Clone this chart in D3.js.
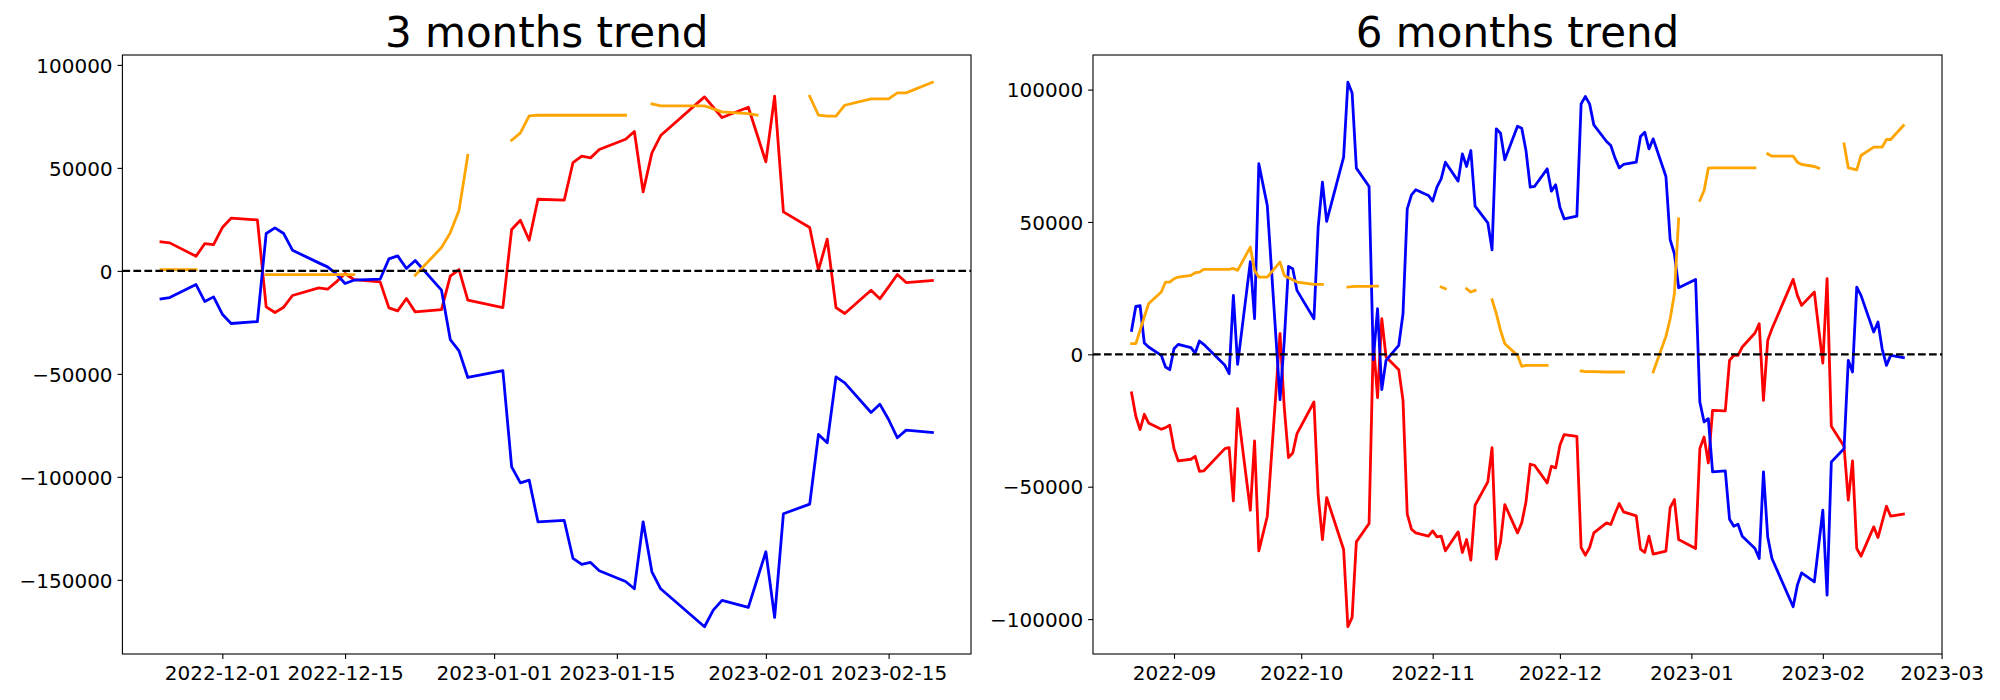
<!DOCTYPE html>
<html><head><meta charset="utf-8">
<script src="https://cdn.jsdelivr.net/npm/d3@7"></script>
<style>
body{margin:0;background:#fff}
svg{display:block}
text{font-family:"DejaVu Sans",sans-serif;fill:#000}
</style>
</head><body>
<svg id="chart" width="2000" height="700"></svg>
<script>
// ---- categories (Korean trading calendar) ----
const holidays = ["2022-09-09","2022-09-12","2022-10-03","2022-10-10","2022-12-30","2023-01-23","2023-01-24"];
const range3 = ["2022-11-24","2023-02-20"];
const range6 = ["2022-08-22","2023-02-20"];
const titles = ["3 months trend","6 months trend"];

// ---- 3 months series ----
const red3 = [
  14080, 13590, 7120, 13270, 12780,
  21030, 25560, 24750, -17480, -20230, -17640, -11970, -8250, -8900, -5340, -1290, -4200, -5340, -17960, -19420, -13430, -19900, -18770, -2590, 650, -14240,
  -17800, 20060, 24590, 14880, 34780, 34300, 52590, 55660, 54850, 58900, 63910, 67630, 38350, 57280, 65690, 84460, 79440, 74430, 79440, 66180,
  52910, 84780, 28640, 21030, 320, 15370, -17800, -20710, -9380, -13590, -7770, -1780, -5660, -4690
];
const blue3 = [
  -13590, -12940, -6630, -14880, -12620,
  -21030, -25560, -24590, 18120, 20870, 18120, 10030, 3880, 1940, -1500, -6150, -4530, -4050, 5820, 7280, 1130, 5020, -9380, -33330, -38830, -51760,
  -48400, -95120, -102900, -101600, -121820, -121170, -139620, -142530, -141560, -145600, -150780, -154340, -121820, -146100, -154340, -172780, -164690, -159990, -163400, -149810,
  -136380, -168250, -117940, -113240, -79430, -83470, -51450, -54350, -68750, -64700, -72150, -81050, -77320, -78460
];
const orange3 = [
  650, 650, 650, null, null,
  null, null, null, -1780, -1780, -1780, -1780, -1780, -1780, -1780, -1780, -1780, null, null, null, null, -2100, 11330, 18450, 29450, 56140,
  null, 63430, 66990, 75240, 75560, 75560, 75560, 75560, 75560, 75560, 75560, null, null, 81060, 80090, 80090, 78630, 77180, 76370, 75560,
  null, null, null, 84780, 75560, 75080, 75080, 80410, 83490, 83490, 83490, 86400, 86400, 91580
];

// ---- 6 months series ----
const red6 = [
  -14590, -23400, -28430, -22640, -25910, -28300, -27680, -26800,
  -35600, -40260, -39630, -38500, -44160, -44030, -35600, -35220, -55350, -20510, -58870, -32710, -74220, -67700, -61140, 7800, -20000, -39000, -37240, -29940,
  -17990, -53210, -69940, -54090, -73720, -102900, -99380, -70830, -63910, 5000, -16350, 13460, -1000, -5790, -17360, -60380, -66040, -67430, -68690,
  -66680, -68940, -68690, -74220, -67050, -74850, -69940, -77740, -56990, -48180, -35220, -77370, -70830, -56740, -67430, -63650, -55730, -41510, -41890, -48560, -42270, -42900,
  -34340, -30320, -30950, -72960, -75860, -72960, -67430, -63650, -64280, -60130, -56360, -59500, -61010, -73590, -74850, -68690, -75480, -74350, -57870, -54850, -69940,
  -73340, -35600, -31200, -41010, -21130, -21390, -2260, -380, -380, 2770, 8050, 11570, -17360, 5280, 9690, 28310, 22270, 18490, 23520, 10000,
  -3270, 28560, -27170, -34720, -55100, -40260, -73340, -76230, -65160, -69190, -63280, -57370, -61140, -60380
];
const blue6 = [
  9060, 18120, 18370, 4280, 2770, -380, -4780, -5790,
  2140, 3770, 2520, 500, 5030, 3770, -4150, -7300, 22270, -3770, 35000, 13460, 72000, 64000, 56230, -17110, 5000, 33210, 32330, 24150,
  13460, 48060, 65040, 50190, 74470, 102780, 98750, 70320, 63400, -2000, 17230, -13330, -2260, 3400, 15350, 54970, 60260, 62150, 60010,
  57870, 63150, 66300, 72590, 65420, 75730, 70950, 76990, 55980, 49690, 39500, 85170, 83530, 73470, 86170, 85420, 76990, 63150, 63400, 70070, 61640, 64030,
  55600, 51200, 52210, 94600, 97370, 94600, 86680, 80390, 78880, 74100, 70450, 71710, 72590, 82270, 83910, 77620, 81390, 67180, 43280, 37990, 25160,
  28310, -17990, -25540, -24280, -44410, -44030, -62270, -64910, -64160, -68690, -73340, -77110, -44410, -68940, -77110, -95350, -87170, -82520, -85920, -72460,
  -58870, -90950, -40640, -35600, -2260, -6660, 25410, 22270, 8430, 12200, 2000, -4150, -380, -1260
];
const orange6 = [
  4030, 4030, 9060, 14090, 19120, 23520, 27300, 27300,
  28560, 29190, 29810, 30820, 31070, 32080, 32080, 32080, 32460, 31700, 40510, 31700, 29190, 29190, 29190, 34850, 29810, 28930, 28180, 27300,
  26420, 26420, 26420, null, null, 25410, 25540, 25660, 25660, 25790, 25790, null, null, null, null, null, null, null, null,
  null, null, 25410, 24780, null, null, 24780, 23520, 24150, null, 20630, 15350, 9060, 4030, -380, -4530, -4150, -4150, -4150, -4150, null, null,
  null, null, null, -6290, -6540, -6540, -6540, -6670, -6670, -6670, -6670, -6670, null, null, null, null, -6670, 6790, 13460, 22900, 51200,
  null, 58120, 61890, 70320, 70450, 70450, 70450, 70450, 70450, 70450, 70450, null, null, 75730, 74850, 74850, 72590, 71710, 70950, 70320,
  null, null, null, 79500, 70450, 70070, 69690, 75100, 78250, 78250, 78250, 81140, 81140, 86420
];

// ---- ticks ----
const yTicks3 = [-150000, -100000, -50000, 0, 50000, 100000];
const yTicks6 = [-100000, -50000, 0, 50000, 100000];
const xTicks3 = ["2022-12-01","2022-12-15","2023-01-01","2023-01-15","2023-02-01","2023-02-15"];
const xTicks6 = ["2022-09-01","2022-10-01","2022-11-01","2022-12-01","2023-01-01","2023-02-01","2023-03-01"];
const xFormat3 = "%Y-%m-%d";
const xFormat6 = "%Y-%m";
const seriesColors = ["#ff0000", "#0000ff", "#ffa500"];

function parseUTC(s){ return new Date(s + "T00:00:00Z"); }
function tradingDays(r){
  const out = [];
  const end = parseUTC(r[1]).getTime();
  for (let t = parseUTC(r[0]).getTime(); t <= end; t += 86400000){
    const d = new Date(t), wd = d.getUTCDay(), s = d.toISOString().slice(0,10);
    if (wd !== 0 && wd !== 6 && !holidays.includes(s)) out.push(d);
  }
  return out;
}
const dates3 = tradingDays(range3);
const dates6 = tradingDays(range6);

const svg = d3.select("#chart");
const FS = 20;
const TICK = 4.9;
const minus = s => s.replace("-", "\u2212");

function panel(cfg){
  const {x0, x1, y0, y1, dates, series, yTicks, xTicks, xFormat, title} = cfg;
  const g = svg.append("g");
  // matplotlib-like autoscale with 5% margins
  const tExt = d3.extent(dates, d => d.getTime());
  const tPad = (tExt[1] - tExt[0]) * 0.05;
  const x = d3.scaleUtc().domain([new Date(tExt[0] - tPad), new Date(tExt[1] + tPad)]).range([x0, x1]);
  const allV = series.flat().filter(v => v !== null);
  const vExt = d3.extent(allV);
  const vPad = (vExt[1] - vExt[0]) * 0.05;
  const y = d3.scaleLinear().domain([vExt[0] - vPad, vExt[1] + vPad]).range([y1, y0]);

  const line = d3.line()
    .defined(d => d[1] !== null)
    .x(d => x(d[0]))
    .y(d => y(d[1]));

  series.forEach((s, i) => {
    g.append("path")
      .datum(dates.map((d, j) => [d, s[j]]))
      .attr("d", line)
      .attr("fill", "none")
      .attr("stroke", seriesColors[i])
      .attr("stroke-width", 2.8)
      .attr("stroke-linejoin", "round")
      .attr("stroke-linecap", "square");
  });

  // zero reference line
  g.append("line")
    .attr("x1", x0).attr("x2", x1)
    .attr("y1", y(0)).attr("y2", y(0))
    .attr("stroke", "#000").attr("stroke-width", 2.08)
    .attr("stroke-dasharray", "7.7,3.3");

  // frame
  g.append("rect")
    .attr("x", x0).attr("y", y0).attr("width", x1 - x0).attr("height", y1 - y0)
    .attr("fill", "none").attr("stroke", "#000").attr("stroke-width", 1.1);

  // axes
  const yAxis = d3.axisLeft(y).tickValues(yTicks).tickSize(TICK).tickPadding(TICK)
    .tickFormat(v => minus(String(v)));
  const ya = g.append("g").attr("transform", `translate(${x0},0)`).call(yAxis);
  ya.select(".domain").remove();
  ya.selectAll("line").attr("stroke-width", 1.1);
  ya.selectAll("text").attr("font-size", FS).attr("font-family", "DejaVu Sans").attr("dy", "0.36em");

  const fmt = d3.utcFormat(xFormat);
  const xAxis = d3.axisBottom(x).tickValues(xTicks.map(parseUTC)).tickSize(TICK).tickPadding(TICK)
    .tickFormat(fmt);
  const xa = g.append("g").attr("transform", `translate(0,${y1})`).call(xAxis);
  xa.select(".domain").remove();
  xa.selectAll("line").attr("stroke-width", 1.1);
  xa.selectAll("text").attr("font-size", FS).attr("font-family", "DejaVu Sans").attr("dy", "0.8em");

  g.append("text")
    .attr("x", (x0 + x1) / 2).attr("y", y0 - 8.3)
    .attr("text-anchor", "middle")
    .attr("font-size", 42)
    .text(title);
}

panel({x0: 122.4, x1: 971, y0: 55, y1: 654, dates: dates3,
  series: [red3, blue3, orange3], yTicks: yTicks3, xTicks: xTicks3, xFormat: xFormat3, title: titles[0]});
panel({x0: 1093, x1: 1942, y0: 55, y1: 654, dates: dates6,
  series: [red6, blue6, orange6], yTicks: yTicks6, xTicks: xTicks6, xFormat: xFormat6, title: titles[1]});
</script>
</body></html>
